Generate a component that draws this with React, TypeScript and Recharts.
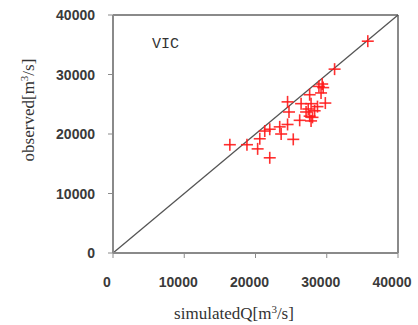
import React from 'react';
import { ScatterChart, Scatter, XAxis, YAxis, ReferenceLine } from 'recharts';

const simulated = [35760, 31100, 29360, 28900, 29500, 29200, 27600, 24500, 26400, 27800, 29800, 28700, 27100, 28300, 24700, 27600, 26200, 27800, 24500, 23400, 22000, 21300, 23600, 20600, 25300, 16400, 18800, 20300, 22000, 28000, 27400];
const observed = [35600, 30900, 28400, 28000, 27800, 26900, 26600, 25400, 25100, 25100, 25200, 24600, 23700, 23900, 23700, 23000, 22300, 22200, 21600, 21200, 20800, 20500, 20000, 19200, 19100, 18200, 18200, 17500, 16000, 22800, 24200];
const ticks = [0, 10000, 20000, 30000, 40000];
const titleX = 'simulatedQ[m';
const titleY = 'observed[m';
const modelName = 'VIC';

const points = simulated.map((x, i) => ({ x, y: observed[i] }));

const Cross = (props: any) => {
  const { cx, cy } = props;
  const r = 6;
  return (
    <g stroke="#ff1a1a" strokeWidth={1.6} strokeOpacity={0.9}>
      <line x1={cx - r} y1={cy} x2={cx + r} y2={cy} />
      <line x1={cx} y1={cy - r} x2={cx} y2={cy + r} />
    </g>
  );
};

const XTick = (props: any) => {
  const { x, y, payload } = props;
  return (
    <text x={x - 6} y={y + 22} textAnchor="middle" dominantBaseline="central" fontFamily="'Liberation Sans', Arial, sans-serif" fontWeight="bold" fontSize={14} fill="#3a3a3a">
      {payload.value}
    </text>
  );
};

const YTick = (props: any) => {
  const { x, y, payload } = props;
  return (
    <text x={x - 11} y={y} textAnchor="end" dominantBaseline="central" fontFamily="'Liberation Sans', Arial, sans-serif" fontWeight="bold" fontSize={14} fill="#3a3a3a">
      {payload.value}
    </text>
  );
};

export default function App() {
  return (
    <div style={{ position: 'absolute', left: 0, top: 0, width: 418, height: 325, background: '#fff' }}>
      <ScatterChart width={418} height={325} margin={{ top: 15, right: 20, left: 0, bottom: 0 }}>
        <XAxis
          type="number"
          dataKey="x"
          domain={[0, 40000]}
          ticks={ticks}
          height={72}
          tickSize={5}
          tickMargin={2}
          tick={<XTick />}
          axisLine={{ stroke: '#8a8a8a', strokeWidth: 2 }}
          tickLine={{ stroke: '#8a8a8a' }}
          allowDataOverflow
        />
        <YAxis
          type="number"
          dataKey="y"
          domain={[0, 40000]}
          ticks={ticks}
          width={113}
          tickSize={5}
          tickMargin={2}
          tick={<YTick />}
          axisLine={{ stroke: '#8a8a8a', strokeWidth: 2 }}
          tickLine={{ stroke: '#8a8a8a' }}
          allowDataOverflow
        />
        <ReferenceLine y={40000} stroke="#8a8a8a" strokeWidth={2} />
        <ReferenceLine x={40000} stroke="#8a8a8a" strokeWidth={2} />
        <ReferenceLine segment={[{ x: 0, y: 0 }, { x: 40000, y: 40000 }]} stroke="#555" strokeWidth={1.3} />
        <Scatter data={points} shape={<Cross />} isAnimationActive={false} />
      </ScatterChart>
      <svg width={418} height={325} style={{ position: 'absolute', left: 0, top: 0, pointerEvents: 'none' }}>
        <text x={152} y={48} fontFamily="'Liberation Mono', 'Courier New', monospace" fontSize={15} fill="#333">
          {modelName}
        </text>
        <text x={234} y={319} textAnchor="middle" fontFamily="'Liberation Serif', 'Times New Roman', serif" fontSize={17} fill="#333">
          {titleX}
          <tspan dy={-6} fontSize={11}>3</tspan>
          <tspan dy={6}>/s]</tspan>
        </text>
        <text transform="translate(34,110) rotate(-90)" textAnchor="middle" fontFamily="'Liberation Serif', 'Times New Roman', serif" fontSize={17} fill="#333">
          {titleY}
          <tspan dy={-6} fontSize={11}>3</tspan>
          <tspan dy={6}>/s]</tspan>
        </text>
      </svg>
    </div>
  );
}
